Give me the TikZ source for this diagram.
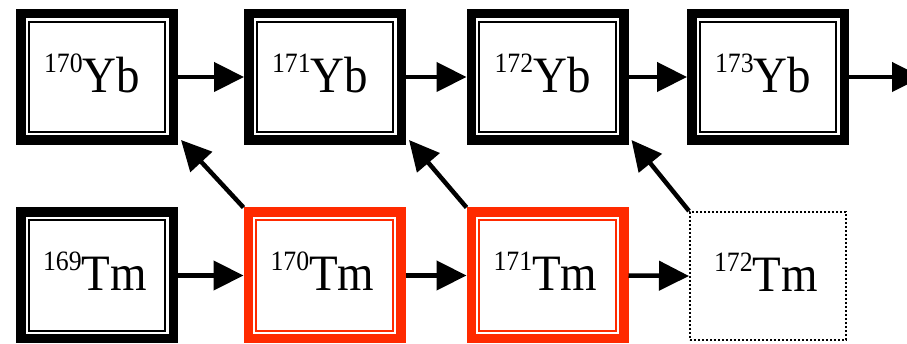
\documentclass[tikz,border=0pt]{standalone}
\usepackage{fontspec}
\setmainfont{Liberation Serif}
\usetikzlibrary{arrows.meta}
\definecolor{isored}{HTML}{FF2A00}
% mass number as a raised small figure, then the element symbol (slightly condensed);
% the optional kern moves the label a little left of the box centre
\newcommand{\nuclide}[3][0pt]{\scalebox{0.92}[1]{{\fontsize{28}{28}\selectfont\raisebox{20pt}{#2}}{\fontsize{51}{51}\selectfont #3}}\kern#1}
\tikzset{
  nuc/.style={rectangle, draw=#1, line width=9.5pt, outer sep=4.75pt, inner sep=0pt,
    minimum width=152.5pt, minimum height=126.5pt, text height=31pt, text depth=0pt,
    path picture={\draw[#1, line width=2pt]
      ([xshift=7.9pt,yshift=-7.9pt]path picture bounding box.north west) rectangle
      ([xshift=-7.9pt,yshift=7.9pt]path picture bounding box.south east);}},
  nuc/.default=black,
  unknown/.style={rectangle, draw=black, line width=2pt, dash pattern=on 2pt off 2pt,
    outer sep=1pt, inner sep=0pt, minimum width=156pt, minimum height=128pt,
    text height=31pt, text depth=0pt},
  arr/.style={line width=4.5pt, -{Triangle[length=30pt,width=29pt]}},
}
\begin{document}
\begin{tikzpicture}[x=1pt,y=-1pt]
  \clip (0,0) rectangle (907,344);
  \fill[white] (0,0) rectangle (907,344);

  % ytterbium row
  \node[nuc] (yb170) at (97,77)    {\nuclide[10pt]{170}{Yb}};
  \node[nuc] (yb171) at (325,77)   {\nuclide[10pt]{171}{Yb}};
  \node[nuc] (yb172) at (547.5,77) {\nuclide[10pt]{172}{Yb}};
  \node[nuc] (yb173) at (768,77)   {\nuclide[10pt]{173}{Yb}};

  % thulium row
  \node[nuc] (tm169) at (97,275.5)           {\nuclide[4pt]{169}{Tm}};
  \node[nuc=isored] (tm170) at (324.5,275.5) {\nuclide[4pt]{170}{Tm}};
  \node[nuc=isored] (tm171) at (547.5,275.5) {\nuclide[4pt]{171}{Tm}};
  \node[unknown] (tm172) at (768,276)        {\nuclide[4pt]{172}{Tm}};

  \coordinate (out) at (922,77);

  % neutron capture
  \draw[arr] (yb170.east) -- (yb171.west);
  \draw[arr] (yb171.east) -- (yb172.west);
  \draw[arr] (yb172.east) -- (yb173.west);
  \draw[arr] (yb173.east) -- (out);
  \draw[arr] (tm169.east) -- (tm170.west);
  \draw[arr] (tm170.east) -- (tm171.west);
  \draw[arr] (tm171.east) -- (tm172.west);

  % beta decay
  \draw[arr] (tm170.north west) -- ([xshift=3pt,yshift=5pt]yb170.south east);
  \draw[arr] (tm171.north west) -- ([xshift=3pt,yshift=5pt]yb171.south east);
  \draw[arr] (tm172.north west) -- ([xshift=3pt,yshift=5pt]yb172.south east);
\end{tikzpicture}
\end{document}
